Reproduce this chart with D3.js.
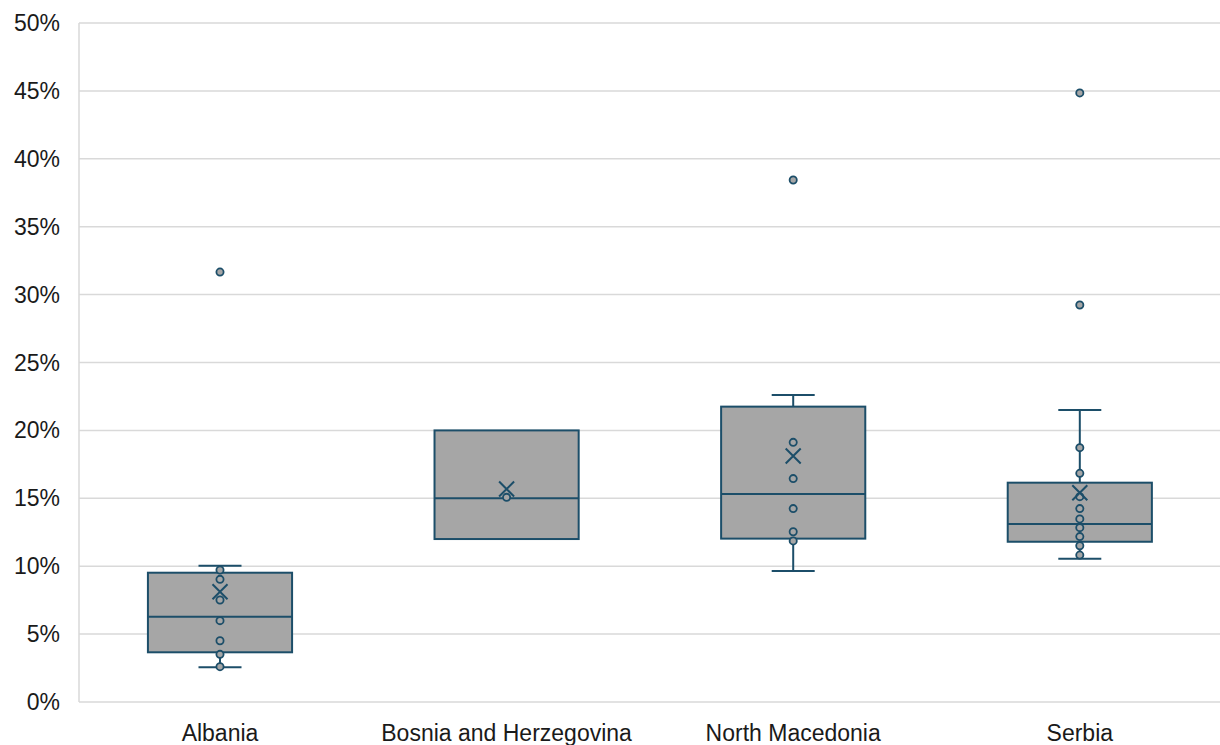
<!DOCTYPE html>
<html>
<head>
<meta charset="utf-8">
<script src="https://cdn.jsdelivr.net/npm/d3@7"></script>
<style>
  html, body { margin: 0; padding: 0; background: #fff; }
  svg { display: block; }
  text { font-family: "Liberation Sans", Arial, sans-serif; fill: #1a1a1a; }
</style>
</head>
<body>
<svg id="chart" width="1220" height="745"></svg>
<script>
// Countries on the category axis
const countries = ["Albania", "Bosnia and Herzegovina", "North Macedonia", "Serbia"];

// Box statistics per country (shares)
const whiskerLow  = [0.0255, 0.120, 0.0965, 0.1055];
const q1          = [0.0366, 0.120, 0.1203, 0.1180];
const median      = [0.0628, 0.150, 0.1532, 0.1311];
const q3          = [0.0952, 0.200, 0.2175, 0.1615];
const whiskerHigh = [0.1004, 0.200, 0.2260, 0.2150];
const mean        = [0.0812, 0.1568, 0.1811, 0.1541];

// Individual observations inside the whiskers
const innerPoints = [
  [0.0260, 0.0351, 0.0451, 0.0599, 0.0751, 0.0903, 0.0972],
  [0.1507],
  [0.1186, 0.1254, 0.1424, 0.1645, 0.1912],
  [0.1082, 0.1151, 0.1218, 0.1284, 0.1348, 0.1424, 0.1512, 0.1684, 0.1873]
];

// Outliers beyond the whiskers
const outliers = [
  [0.3166],
  [],
  [0.3844],
  [0.2923, 0.4485]
];

// Y-axis ticks
const yTicks = [0, 0.05, 0.10, 0.15, 0.20, 0.25, 0.30, 0.35, 0.40, 0.45, 0.50];

const plot = { left: 79, right: 1220, top: 23, bottom: 702 };

const boxStroke = "#1c4e69";
const boxFill = "#a6a6a6";
const gridColor = "#d9d9d9";

const svg = d3.select("#chart");

// Category bands run slightly past the drawn frame on both sides
const x = d3.scaleBand()
  .domain(countries)
  .range([76.7, 1223.1])
  .paddingInner(0)
  .paddingOuter(0);

const y = d3.scaleLinear()
  .domain([0, 0.5])
  .range([plot.bottom, plot.top]);

// Horizontal gridlines
svg.append("g")
  .selectAll("line")
  .data(yTicks)
  .join("line")
  .attr("x1", plot.left)
  .attr("x2", plot.right)
  .attr("y1", d => y(d))
  .attr("y2", d => y(d))
  .attr("stroke", gridColor)
  .attr("stroke-width", 1.5);

// Vertical axis line
svg.append("line")
  .attr("x1", plot.left).attr("x2", plot.left)
  .attr("y1", plot.top).attr("y2", plot.bottom)
  .attr("stroke", gridColor)
  .attr("stroke-width", 1.5);

// Y-axis labels
const fmt = d3.format(".0%");
svg.append("g")
  .selectAll("text")
  .data(yTicks)
  .join("text")
  .attr("x", 60)
  .attr("y", d => y(d))
  .attr("dy", "0.35em")
  .attr("text-anchor", "end")
  .attr("font-size", 23)
  .text(d => fmt(d));

// Category labels
svg.append("g")
  .selectAll("text")
  .data(countries)
  .join("text")
  .attr("x", d => x(d) + x.bandwidth() / 2)
  .attr("y", 741)
  .attr("text-anchor", "middle")
  .attr("font-size", 23)
  .text(d => d);

const boxW = x.bandwidth() * 0.503;
const capW = 43;

countries.forEach((c, i) => {
  const cx = x(c) + x.bandwidth() / 2;
  const g = svg.append("g");

  // whisker stems
  g.append("line")
    .attr("x1", cx).attr("x2", cx)
    .attr("y1", y(q3[i])).attr("y2", y(whiskerHigh[i]))
    .attr("stroke", boxStroke).attr("stroke-width", 2);
  g.append("line")
    .attr("x1", cx).attr("x2", cx)
    .attr("y1", y(q1[i])).attr("y2", y(whiskerLow[i]))
    .attr("stroke", boxStroke).attr("stroke-width", 2);

  // whisker caps
  if (whiskerHigh[i] > q3[i]) {
    g.append("line")
      .attr("x1", cx - capW / 2).attr("x2", cx + capW / 2)
      .attr("y1", y(whiskerHigh[i])).attr("y2", y(whiskerHigh[i]))
      .attr("stroke", boxStroke).attr("stroke-width", 2);
  }
  if (whiskerLow[i] < q1[i]) {
    g.append("line")
      .attr("x1", cx - capW / 2).attr("x2", cx + capW / 2)
      .attr("y1", y(whiskerLow[i])).attr("y2", y(whiskerLow[i]))
      .attr("stroke", boxStroke).attr("stroke-width", 2);
  }

  // box
  g.append("rect")
    .attr("x", cx - boxW / 2)
    .attr("y", y(q3[i]))
    .attr("width", boxW)
    .attr("height", y(q1[i]) - y(q3[i]))
    .attr("fill", boxFill)
    .attr("stroke", boxStroke)
    .attr("stroke-width", 2);

  // median
  g.append("line")
    .attr("x1", cx - boxW / 2).attr("x2", cx + boxW / 2)
    .attr("y1", y(median[i])).attr("y2", y(median[i]))
    .attr("stroke", boxStroke).attr("stroke-width", 2);

  // inner points
  g.selectAll("circle.inner")
    .data(innerPoints[i])
    .join("circle")
    .attr("class", "inner")
    .attr("cx", cx)
    .attr("cy", d => y(d))
    .attr("r", 3.6)
    .attr("fill", boxFill)
    .attr("stroke", boxStroke)
    .attr("stroke-width", 1.8);

  // outliers
  g.selectAll("circle.outlier")
    .data(outliers[i])
    .join("circle")
    .attr("class", "outlier")
    .attr("cx", cx)
    .attr("cy", d => y(d))
    .attr("r", 3.6)
    .attr("fill", boxFill)
    .attr("stroke", boxStroke)
    .attr("stroke-width", 1.8);

  // mean marker
  const my = y(mean[i]);
  const s = 7.5;
  g.append("path")
    .attr("d", `M${cx - s},${my - s}L${cx + s},${my + s}M${cx + s},${my - s}L${cx - s},${my + s}`)
    .attr("stroke", boxStroke)
    .attr("stroke-width", 2)
    .attr("fill", "none");
});
</script>
</body>
</html>
